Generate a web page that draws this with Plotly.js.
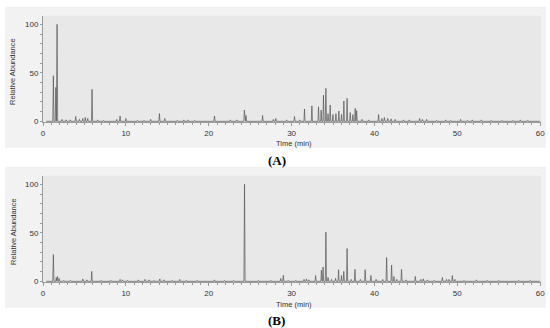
<!DOCTYPE html>
<html>
<head>
<meta charset="utf-8">
<script src="https://cdn.plot.ly/plotly-3.0.1.min.js"></script>
<style>html,body{margin:0;padding:0;background:#fff;}#chart{width:550px;height:328px;}</style>
</head>
<body>
<div id="chart"></div>
<script>
// ---------- data ----------
const runStart = 0.4;
const runEnd = 60;

// Panel A: retention time (min) and relative abundance of each peak
const peakTimeA = [1.25, 1.55, 1.7, 2.3, 2.8, 3.3, 3.95, 4.4, 4.8, 5.1, 5.4, 5.92, 6.6, 7.3, 8.9, 9.3, 10.0, 11.4, 12.2, 13.0, 14.05, 14.7, 16.2, 17.0, 17.5, 18.3, 20.7, 22.6, 23.4, 24.3, 24.5, 26.5, 27.8, 28.1, 29.4, 30.35, 31.0, 31.56, 32.45, 33.25, 33.57, 33.85, 34.14, 34.4, 34.66, 34.99, 35.35, 35.71, 36.03, 36.31, 36.7, 37.08, 37.4, 37.68, 37.85, 38.5, 39.3, 40.5, 40.9, 41.2, 41.6, 42.0, 42.5, 43.5, 44.2, 45.45, 45.8, 46.3, 47.5, 48.6, 49.2, 50.4, 51.2, 51.8, 52.9, 54.1, 55.4, 56.7, 57.6, 58.5];
const peakHeightA = [47, 35, 100, 2, 1.5, 1.5, 5, 2, 3, 4, 3, 33, 1.5, 1, 2, 5.5, 3, 1, 1, 2, 8, 3, 1, 1.5, 1.5, 1, 5.5, 1.5, 1.5, 11.6, 6, 6, 2, 3, 1.5, 5, 1.5, 12.7, 16, 15, 11.6, 27, 34, 8, 16.8, 7, 8, 10.6, 7, 21, 23.7, 9, 7, 13.4, 11, 2, 1.5, 7, 3, 4, 3, 2.5, 2, 1.5, 1.5, 3, 2, 2, 1, 1.5, 1, 2, 1, 1.5, 1.5, 1, 1, 1, 1.5, 1];

// Panel B
const peakTimeB = [1.25, 1.6, 1.75, 1.95, 2.5, 3.3, 4.8, 5.3, 5.88, 7.0, 8.2, 9.3, 9.6, 10.2, 11.5, 12.3, 12.8, 13.4, 14.1, 14.6, 15.6, 16.5, 17.3, 18.6, 20.7, 21.9, 23.0, 24.32, 26.0, 27.5, 28.7, 29.0, 29.6, 30.5, 31.5, 31.8, 32.1, 32.9, 33.6, 33.8, 34.14, 34.4, 34.8, 35.3, 35.67, 36.03, 36.3, 36.7, 37.2, 37.65, 38.3, 38.88, 39.57, 40.2, 41.0, 41.47, 42.07, 42.35, 42.7, 43.27, 43.8, 44.93, 45.6, 45.9, 46.4, 47.2, 48.2, 48.7, 49.0, 49.4, 49.7, 50.8, 52.3, 53.6, 55.0, 57.4, 58.8];
const peakHeightB = [27.6, 4, 5, 3, 1, 1, 2.5, 1.5, 10.3, 1, 1, 2, 1.5, 1, 1.5, 2, 1.5, 1, 2.5, 1.5, 1, 2, 1, 1, 1.5, 1, 1, 100, 1, 1, 3, 6.2, 1, 1, 2, 2.5, 1.5, 6, 11.4, 14.8, 50.7, 4, 2, 3, 12, 6, 10.3, 33.8, 2, 12.4, 2, 12, 6, 2, 2, 24.5, 16.8, 5, 2, 12.4, 1.5, 5, 2, 2.5, 1.5, 1, 4, 2, 2, 6, 2, 1, 1.5, 1, 1, 1, 1];

const xTickVals = [0, 10, 20, 30, 40, 50, 60];
const yTickVals = [0, 50, 100];

// ---------- build the chromatogram traces ----------
function chromatogram(times, heights, halfWidth) {
  const xs = [runStart], ys = [0];
  for (let i = 0; i < times.length; i++) {
    xs.push(times[i] - halfWidth, times[i], times[i] + halfWidth);
    ys.push(0, heights[i], 0);
  }
  xs.push(runEnd); ys.push(0);
  return {x: xs, y: ys};
}
const cA = chromatogram(peakTimeA, peakHeightA, 0.07);
const cB = chromatogram(peakTimeB, peakHeightB, 0.07);

const lineStyle = {color: '#555555', width: 0.7};
const traces = [
  {x: cA.x, y: cA.y, type: 'scatter', mode: 'lines', line: lineStyle, xaxis: 'x', yaxis: 'y', hoverinfo: 'skip'},
  {x: cB.x, y: cB.y, type: 'scatter', mode: 'lines', line: lineStyle, xaxis: 'x2', yaxis: 'y2', hoverinfo: 'skip'}
];

// ---------- layout ----------
const W = 550, H = 328;
const fx = v => v / W;
const fy = v => 1 - v / H;
const offB = 160;

const xDomain = [fx(43), fx(541)];
const yDomainA = [fy(122), fy(15.7)];
const yDomainB = [fy(122 + offB), fy(15.7 + offB)];

const tickFont = {family: 'Liberation Sans, Arial, sans-serif', size: 8, color: '#333'};
function xAxis(anchor) {
  return {
    domain: xDomain, anchor: anchor, range: [0, 60.1], tickvals: xTickVals,
    showgrid: false, zeroline: false, showline: true, linecolor: '#9a9a9a', linewidth: 1,
    ticks: 'outside', ticklen: 3, tickcolor: '#9a9a9a', tickwidth: 1,
    minor: {dtick: 1, ticks: 'outside', ticklen: 2, tickcolor: '#9a9a9a', tickwidth: 1},
    tickfont: tickFont, fixedrange: true
  };
}
function yAxis(anchor, domain) {
  return {
    domain: domain, anchor: anchor, range: [-0.7, 108.9], tickvals: yTickVals,
    showgrid: false, zeroline: false, showline: true, linecolor: '#9a9a9a', linewidth: 1,
    ticks: 'outside', ticklen: 2, tickcolor: '#9a9a9a', tickwidth: 1,
    minor: {dtick: 10, ticks: 'outside', ticklen: 2, tickcolor: '#9a9a9a', tickwidth: 1},
    tickfont: tickFont, fixedrange: true
  };
}

const panelFill = '#f2f2f2', plotFill = '#e8e8e8';
function panelShapes(dy) {
  return [
    {type: 'rect', xref: 'paper', yref: 'paper', x0: fx(5), x1: fx(546), y0: fy(147.7 + dy), y1: fy(6.7 + dy),
     fillcolor: panelFill, line: {width: 0}, layer: 'below'},
    {type: 'rect', xref: 'paper', yref: 'paper', x0: xDomain[0], x1: xDomain[1], y0: fy(122 + dy), y1: fy(15.7 + dy),
     fillcolor: plotFill, line: {width: 0}, layer: 'below'}
  ];
}

const labelFont = {family: 'Liberation Sans, Arial, sans-serif', size: 7.5, color: '#333'};
const letterFont = {family: 'Liberation Serif, Times New Roman, serif', size: 13, color: '#000'};
function panelAnnotations(dy, letter) {
  return [
    {text: 'Relative Abundance', xref: 'paper', yref: 'paper', x: fx(13), y: fy(72 + dy), textangle: -90,
     showarrow: false, font: labelFont, xanchor: 'center', yanchor: 'middle'},
    {text: 'Time (min)', xref: 'paper', yref: 'paper', x: fx(294), y: fy(144 + dy),
     showarrow: false, font: labelFont, xanchor: 'center', yanchor: 'middle'},
    {text: '<b>(' + letter + ')</b>', xref: 'paper', yref: 'paper', x: fx(276.5), y: fy(160 + dy),
     showarrow: false, font: letterFont, xanchor: 'center', yanchor: 'middle'}
  ];
}

const layout = {
  width: W, height: H,
  margin: {l: 0, r: 0, t: 0, b: 0, pad: 0},
  paper_bgcolor: '#ffffff', plot_bgcolor: 'rgba(0,0,0,0)',
  showlegend: false,
  xaxis: xAxis('y'), yaxis: yAxis('x', yDomainA),
  xaxis2: xAxis('y2'), yaxis2: yAxis('x2', yDomainB),
  shapes: panelShapes(0).concat(panelShapes(offB)),
  annotations: panelAnnotations(0, 'A').concat(panelAnnotations(offB, 'B'))
};

Plotly.newPlot('chart', traces, layout, {staticPlot: true, displayModeBar: false});
</script>
</body>
</html>
